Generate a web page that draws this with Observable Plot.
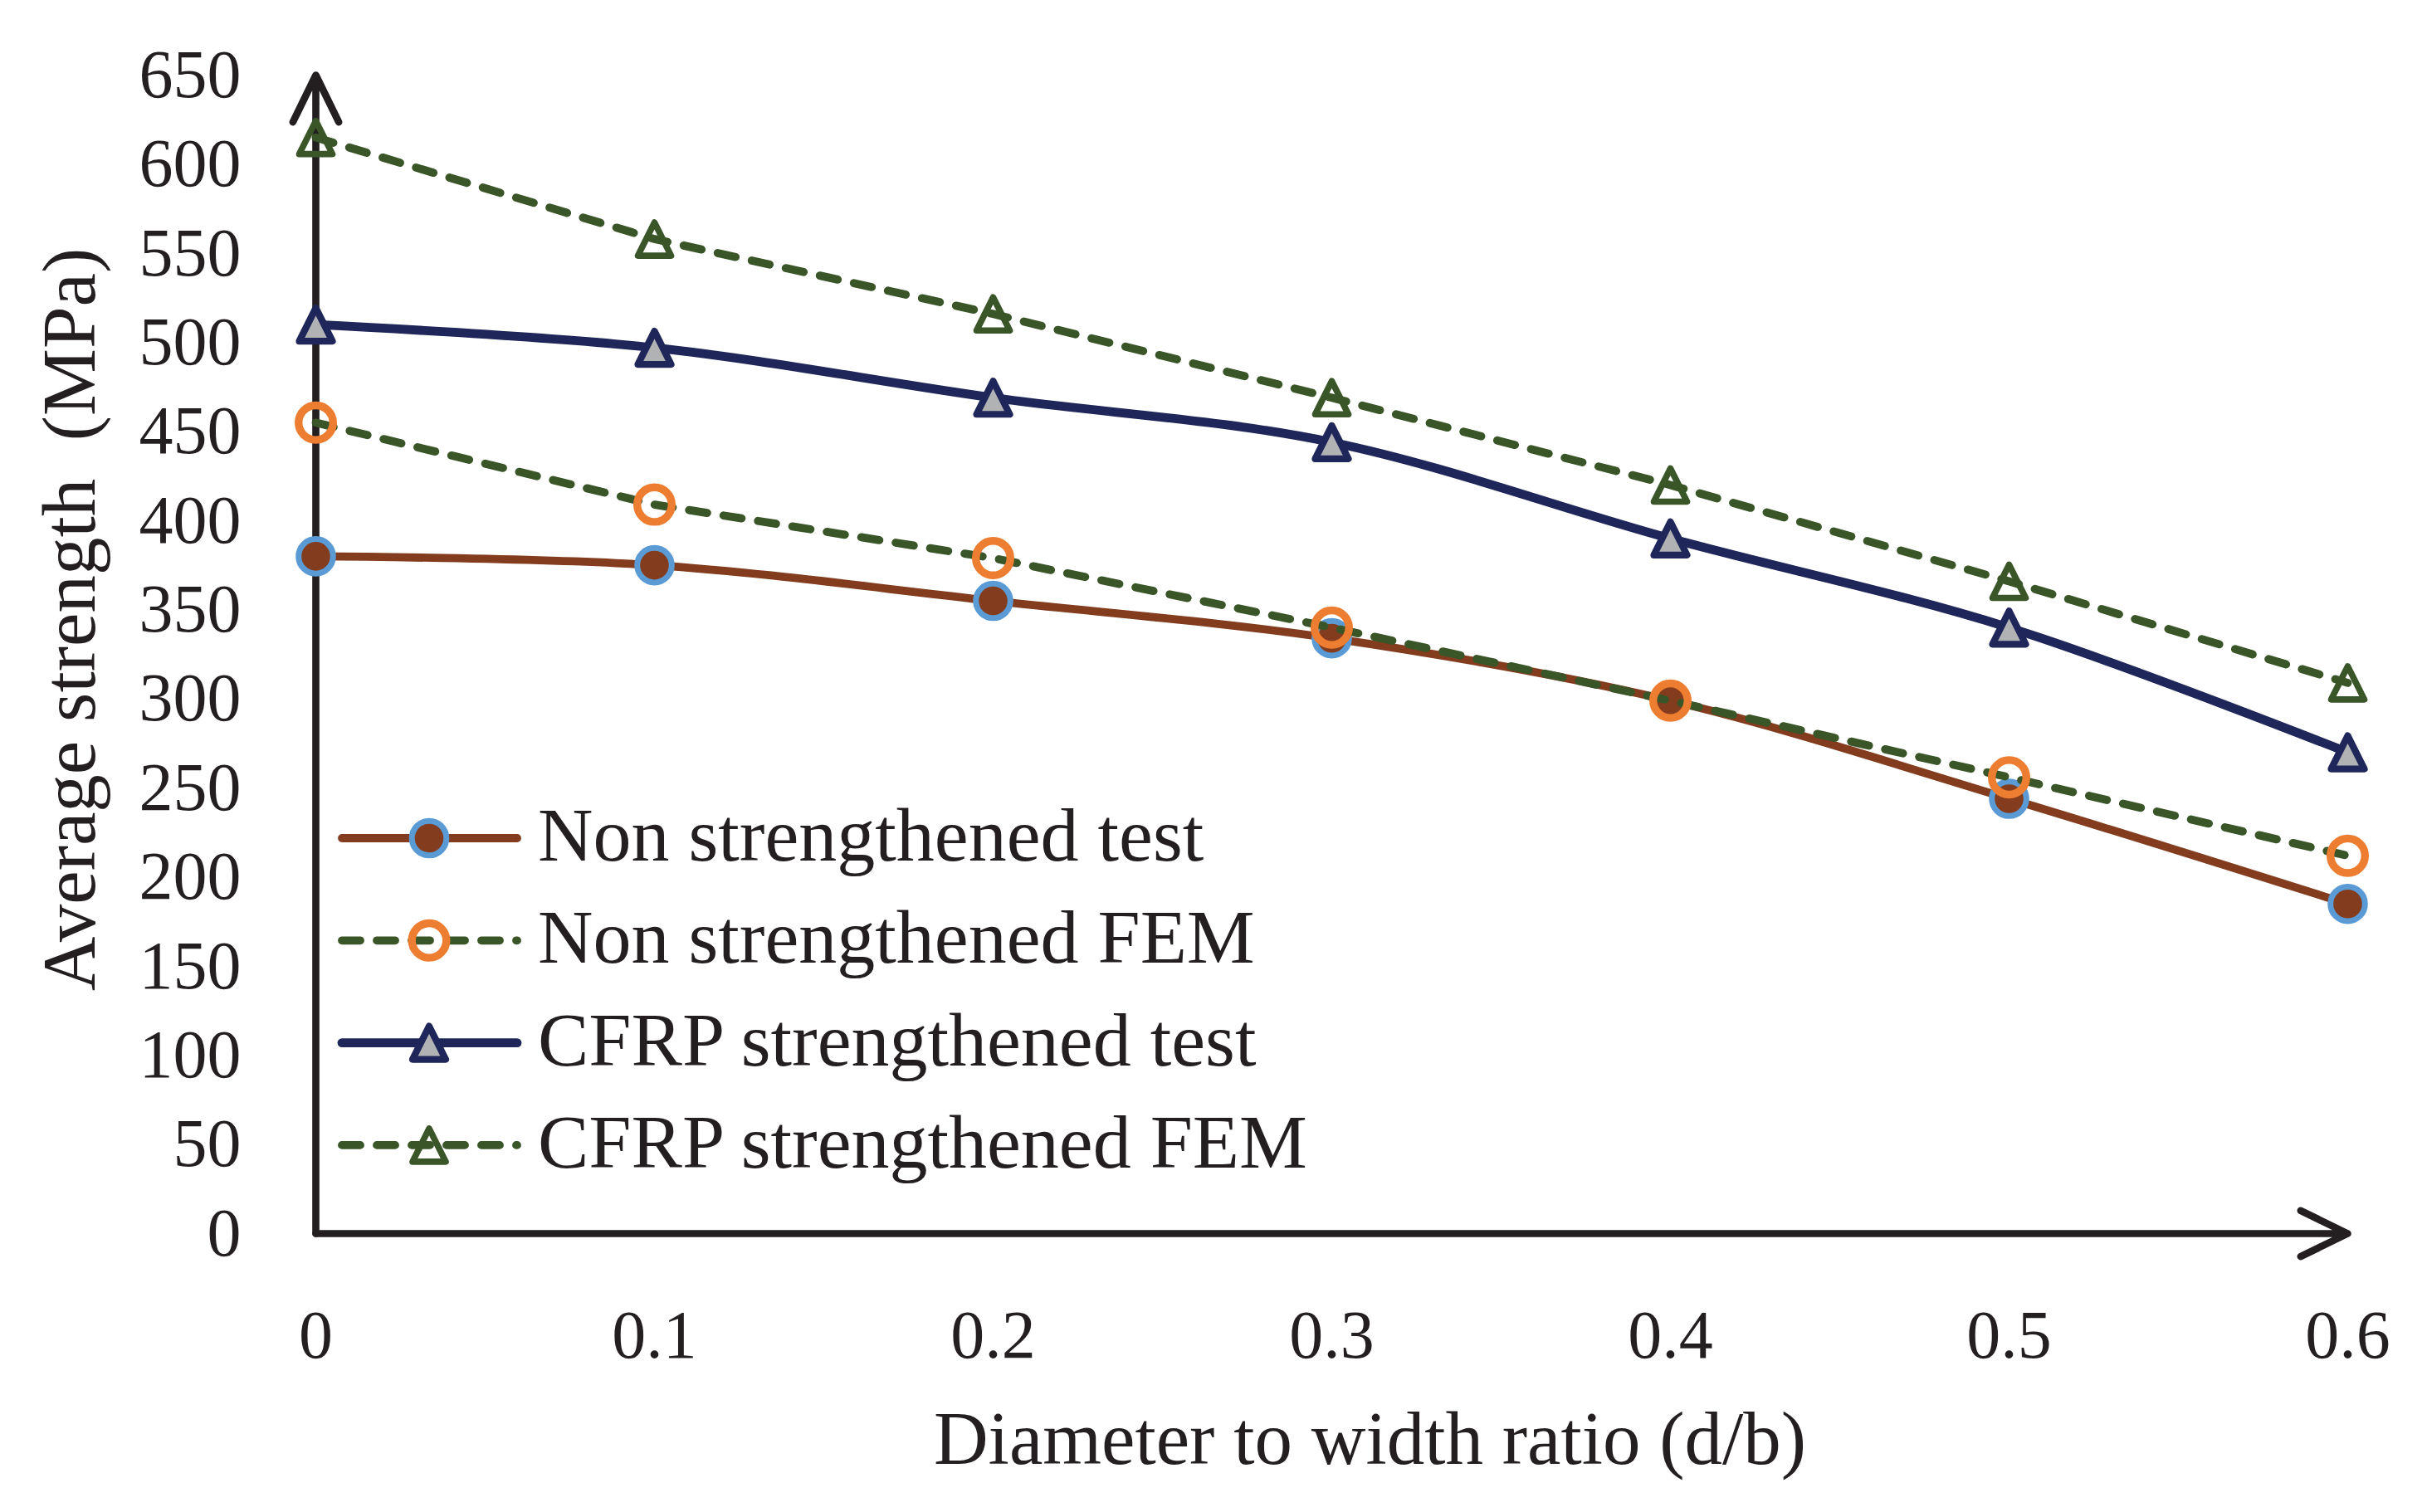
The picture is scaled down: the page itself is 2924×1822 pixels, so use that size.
<!DOCTYPE html>
<html>
<head>
<meta charset="utf-8">
<script src="https://cdn.jsdelivr.net/npm/d3@7"></script>
<script src="https://cdn.jsdelivr.net/npm/@observablehq/plot@0.6"></script>
<style>
  html, body { margin: 0; padding: 0; background: #ffffff; overflow: hidden; }
  #chart { width: 2924px; height: 1822px; }
</style>
</head>
<body>
<div id="chart"></div>
<script>
// ---- data ----
const ratios = [0, 0.1, 0.2, 0.3, 0.4, 0.5, 0.6];
const nonStrengthenedTest = [380, 375, 355, 334, 299, 244, 185];
const nonStrengthenedFEM  = [455, 409, 379, 340, 299, 256, 212];
const cfrpStrengthenedTest = [510, 497, 469, 444, 390, 340, 270];
const cfrpStrengthenedFEM  = [615, 558, 516, 469, 420, 366, 309];
const seriesNames = ["Non strengthened test", "Non strengthened FEM", "CFRP strengthened test", "CFRP strengthened FEM"];
const seriesValues = [nonStrengthenedTest, nonStrengthenedFEM, cfrpStrengthenedTest, cfrpStrengthenedFEM];
const xTicks = [0, 0.1, 0.2, 0.3, 0.4, 0.5, 0.6];
const yTicks = [0, 50, 100, 150, 200, 250, 300, 350, 400, 450, 500, 550, 600, 650];
const xDomain = [0, 0.6];
const yDomain = [0, 650];
const xTitle = "Diameter to width ratio (d/b)";
const yTitle = "Average strength  (MPa)";

// ---- styles ----
const FONT = "'Palatino Linotype', 'Book Antiqua', Palatino, 'Liberation Serif', 'DejaVu Serif', serif";
const INK = "#231F20";
const BROWN = "#833C1E", NAVY = "#1F2659", GREEN = "#3A5528", ORANGE = "#ED7D31", BLUE = "#5B9BD5", GRAY = "#B1B2B4";

const triangleSymbol = {
  draw(ctx, size) {
    const r = Math.sqrt(size / Math.PI);
    ctx.moveTo(0, -r);
    ctx.lineTo(r, r);
    ctx.lineTo(-r, r);
    ctx.closePath();
  }
};

const seriesStyles = [
  {line: {stroke: BROWN, strokeWidth: 9.8, curve: "catmull-rom"},
   dot: {symbol: "circle", r: 20.8, fill: BROWN, stroke: BLUE, strokeWidth: 7}},
  {line: {stroke: GREEN, strokeWidth: 9.8, strokeDasharray: "22,20", strokeLinecap: "round", curve: "linear"},
   dot: {symbol: "circle", r: 20.8, fill: "none", stroke: ORANGE, strokeWidth: 9.4}},
  {line: {stroke: NAVY, strokeWidth: 10.8, curve: "catmull-rom"},
   dot: {symbol: triangleSymbol, r: 20, fill: GRAY, stroke: NAVY, strokeWidth: 8.2, strokeLinejoin: "round"}},
  {line: {stroke: GREEN, strokeWidth: 9.8, strokeDasharray: "22,20", strokeLinecap: "round", curve: "linear"},
   dot: {symbol: triangleSymbol, r: 20, fill: "none", stroke: GREEN, strokeWidth: 7.6, strokeLinejoin: "round"}}
];

const seriesData = seriesValues.map((vals) => ratios.map((x, i) => ({x, y: vals[i]})));
const axisArrows = [
  {x1: xDomain[0], y1: yDomain[0], x2: xDomain[0], y2: yDomain[1]},
  {x1: xDomain[0], y1: yDomain[0], x2: xDomain[1], y2: yDomain[0]}
];

const seriesMarks = seriesData.flatMap((data, k) => [
  Plot.line(data, {x: "x", y: "y", ...seriesStyles[k].line}),
  Plot.dot(data, {x: "x", y: "y", ...seriesStyles[k].dot})
]);

const svg = Plot.plot({
  width: 2924,
  height: 1822,
  marginLeft: 380,
  marginRight: 96,
  marginTop: 90,
  marginBottom: 336,
  style: {fontFamily: FONT, fontSize: "82px", color: INK, background: "#ffffff"},
  x: {domain: xDomain, ticks: xTicks, tickSize: 0, tickPadding: 91, tickFormat: (d) => String(d), label: null},
  y: {domain: yDomain, ticks: yTicks, tickSize: 0, tickPadding: 90, label: null},
  marks: [
    Plot.arrow(axisArrows, {x1: "x1", y1: "y1", x2: "x2", y2: "y2", stroke: INK, strokeWidth: 8.6, headLength: 11, headAngle: 52}),
    ...seriesMarks,
    Plot.text([yTitle], {text: (d) => d, frameAnchor: "left", rotate: -90, textAnchor: "middle", lineAnchor: "bottom",
      dx: -267, dy: -42, fontSize: 91, fill: INK}),
    Plot.text([xTitle], {text: (d) => d, frameAnchor: "bottom", textAnchor: "middle", lineAnchor: "bottom",
      dx: 46, dy: 277, fontSize: 91, fill: INK})
  ]
});

document.getElementById("chart").appendChild(svg);

// ---- legend (inside the plot area) ----
const legend = d3.select(svg).append("g").attr("class", "legend").attr("text-anchor", "start");
const rowY0 = 1010, rowStep = 123.3, lineX0 = 412, lineX1 = 623, markerX = 517, textX = 648;
seriesNames.forEach((name, k) => {
  const st = seriesStyles[k];
  const y = rowY0 + k * rowStep;
  const row = legend.append("g");
  row.append("line")
    .attr("x1", lineX0).attr("x2", lineX1).attr("y1", y).attr("y2", y)
    .attr("stroke", st.line.stroke)
    .attr("stroke-width", st.line.strokeWidth)
    .attr("stroke-linecap", "round")
    .attr("stroke-dasharray", st.line.strokeDasharray || null);
  const d = st.dot;
  if (d.symbol === "circle") {
    row.append("circle").attr("cx", markerX).attr("cy", y).attr("r", d.r)
      .attr("fill", d.fill).attr("stroke", d.stroke).attr("stroke-width", d.strokeWidth);
  } else {
    row.append("path")
      .attr("transform", `translate(${markerX},${y})`)
      .attr("d", d3.symbol(d.symbol, d.r * d.r * Math.PI)())
      .attr("fill", d.fill).attr("stroke", d.stroke).attr("stroke-width", d.strokeWidth)
      .attr("stroke-linejoin", "round");
  }
  row.append("text")
    .attr("x", textX).attr("y", y + 27)
    .attr("text-anchor", "start")
    .attr("font-family", FONT).attr("font-size", 92).attr("fill", INK)
    .text(name);
});
</script>
</body>
</html>
